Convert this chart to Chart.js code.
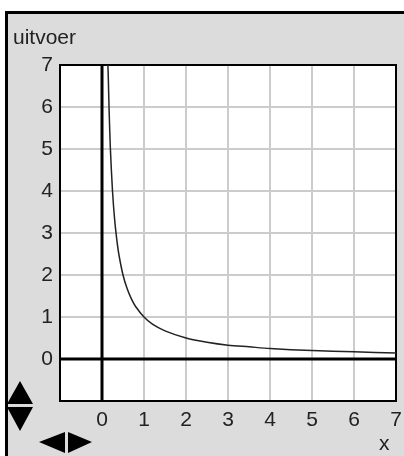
<!DOCTYPE html>
<html>
<head>
<meta charset="utf-8">
<script src="https://cdn.jsdelivr.net/npm/chart.js@4"></script>
<style>
  html, body { margin: 0; padding: 0; background: #fff; }
  canvas { display: block; }
</style>
</head>
<body>
<canvas id="grafiek" width="404" height="456"></canvas>
<script>
// waarden
const xWaarden = [0.14, 0.15, 0.17, 0.2, 0.25, 0.3, 0.35, 0.4, 0.5, 0.6, 0.7, 0.8, 1, 1.2, 1.5, 2, 2.5, 3, 3.5, 4, 5, 6, 7];
const yWaarden = [7, 6.7, 5.9, 5, 4, 3.33, 2.86, 2.5, 2, 1.67, 1.43, 1.25, 1, 0.83, 0.67, 0.5, 0.4, 0.33, 0.29, 0.25, 0.2, 0.17, 0.14];
const tickLabels = ['', '0', '1', '2', '3', '4', '5', '6', '7'];
const yTitel = 'uitvoer';
const xTitel = 'x';

const fontNaam = '"Liberation Sans Narrow", "Liberation Sans", Arial, sans-serif';
const font = { family: fontNaam, size: 21 };

const achtergrond = {
    id: 'achtergrond',
    beforeDraw(chart) {
        const ctx = chart.ctx, a = chart.chartArea;
        ctx.save();
        ctx.fillStyle = '#fff';
        ctx.fillRect(0, 0, chart.width, chart.height);
        ctx.fillStyle = '#dcdcdc';
        ctx.fillRect(5, 11, chart.width, chart.height);
        ctx.fillStyle = '#000';
        ctx.fillRect(5, 11, chart.width, 3);
        ctx.fillRect(5, 11, 3, chart.height);
        ctx.fillStyle = '#fff';
        ctx.fillRect(a.left, a.top, a.right - a.left, a.bottom - a.top);
        ctx.restore();
    },
    beforeDatasetsDraw(chart) {
        const ctx = chart.ctx, a = chart.chartArea;
        const x0 = chart.scales.x.getPixelForValue(0);
        const y0 = chart.scales.y.getPixelForValue(0);
        ctx.save();
        ctx.strokeStyle = '#000';
        ctx.lineWidth = 2;
        ctx.strokeRect(a.left, a.top, a.right - a.left, a.bottom - a.top);
        ctx.lineWidth = 3;
        ctx.beginPath();
        ctx.moveTo(x0, a.top); ctx.lineTo(x0, a.bottom);
        ctx.moveTo(a.left, y0); ctx.lineTo(a.right, y0);
        ctx.stroke();
        ctx.restore();
    },
    afterDraw(chart) {
        const ctx = chart.ctx;
        ctx.save();
        ctx.fillStyle = '#222';
        ctx.font = '21px ' + fontNaam;
        ctx.textBaseline = 'alphabetic';
        ctx.fillText(yTitel, 13, 44);
        ctx.fillText(xTitel, 379, 450);
        // pijltjes
        ctx.fillStyle = '#000';
        ctx.beginPath();
        ctx.moveTo(20, 381); ctx.lineTo(33, 404); ctx.lineTo(7, 404); ctx.closePath();
        ctx.moveTo(7, 407); ctx.lineTo(33, 407); ctx.lineTo(20, 431); ctx.closePath();
        ctx.moveTo(39, 442); ctx.lineTo(65, 432); ctx.lineTo(65, 453); ctx.closePath();
        ctx.moveTo(68, 432); ctx.lineTo(92, 442); ctx.lineTo(68, 453); ctx.closePath();
        ctx.fill();
        ctx.restore();
    }
};

new Chart(document.getElementById('grafiek'), {
    type: 'scatter',
    data: {
        datasets: [{
            data: xWaarden.map((x, i) => ({ x: x, y: yWaarden[i] })),
            showLine: true,
            borderColor: '#222',
            borderWidth: 1.5,
            pointRadius: 0,
            tension: 0.3
        }]
    },
    options: {
        responsive: false,
        animation: false,
        layout: { padding: { top: 65, right: 8, left: 0, bottom: 0 } },
        plugins: { legend: { display: false }, tooltip: { enabled: false } },
        scales: {
            x: {
                type: 'linear', min: -1, max: 7,
                afterFit: s => { s.height = 55; },
                ticks: { stepSize: 1, padding: 0, color: '#222', font: font, maxRotation: 0,
                    callback: (v) => tickLabels[v + 1] },
                grid: { color: '#cccccc', lineWidth: 2, drawTicks: true, tickLength: 7, tickColor: 'rgba(0,0,0,0)' },
                border: { display: false }
            },
            y: {
                min: -1, max: 7,
                afterFit: s => { s.width = 60; },
                ticks: { stepSize: 1, padding: 0, color: '#222', font: font,
                    callback: (v) => tickLabels[v + 1] },
                grid: { color: '#cccccc', lineWidth: 2, drawTicks: true, tickLength: 7, tickColor: 'rgba(0,0,0,0)' },
                border: { display: false }
            }
        }
    },
    plugins: [achtergrond]
});
</script>
</body>
</html>
